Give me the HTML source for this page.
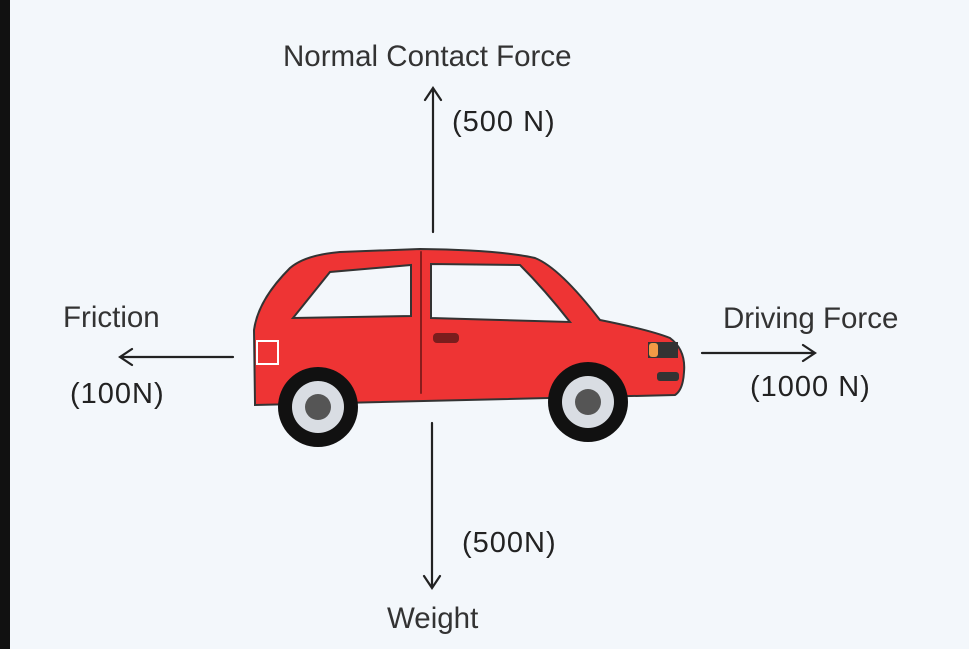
<!DOCTYPE html>
<html><head><style>
html,body{margin:0;padding:0;}
body{width:969px;height:649px;background:#f3f7fb;position:relative;overflow:hidden;font-family:"Liberation Sans",sans-serif;}
.t{position:absolute;color:#333;font-size:29.5px;line-height:34px;}
.h{position:absolute;color:#222;font-family:"Liberation Sans",sans-serif;font-size:29px;letter-spacing:1px;}
</style></head><body>
<div style="position:absolute;left:0;top:0;width:10px;height:649px;background:#111"></div>
<div class="t" style="left:283px;top:40px">Normal Contact Force</div>
<div class="t" style="left:63px;top:301px">Friction</div>
<div class="t" style="left:723px;top:302px">Driving Force</div>
<div class="t" style="left:387px;top:602px">Weight</div>
<div class="h" style="left:452px;top:106px">(500 N)</div>
<div class="h" style="left:70px;top:378px">(100N)</div>
<div class="h" style="left:750px;top:371px">(1000 N)</div>
<div class="h" style="left:462px;top:527px">(500N)</div>
<svg width="969" height="649" style="position:absolute;left:0;top:0" fill="none" stroke="#222" stroke-width="2.2" stroke-linecap="round">
<path d="M433 232V88M425 100l8-12 8 12"/>
<path d="M432 423V588M424 576l8 12 8-12"/>
<path d="M233 357H120M132 349l-12 8 12 8"/>
<path d="M702 353H815M803 345l12 8-12 8"/>
<path d="M255 403 L254 330 Q258 300 290 268 Q305 255 340 252 L420 249 Q500 250 535 258 Q560 268 600 320 Q650 330 670 338 Q686 350 684 372 Q683 390 675 395 L255 405Z" fill="#ee3434" stroke="#333" stroke-width="2"/>
<path d="M293 318 L330 272 L411 265 L411 316Z" fill="#f3f7fb" stroke="#333" stroke-width="2"/>
<path d="M431 264 L520 265 Q545 290 570 322 L431 318Z" fill="#f3f7fb" stroke="#333" stroke-width="2"/>
<path d="M421 252V393" stroke="#8a1c1c" stroke-width="2"/>
<rect x="257" y="341" width="21" height="23" fill="#ee3434" stroke="#fff" stroke-width="2"/>
<rect x="433" y="333" width="26" height="10" rx="4" fill="#7a1d1d" stroke="none"/>
<path d="M648 342h30v16h-30z" fill="#333" stroke="none"/>
<rect x="649" y="343" width="9" height="14" rx="3" fill="#f29a45" stroke="none"/>
<rect x="657" y="372" width="22" height="9" rx="3" fill="#333" stroke="none"/>
<circle cx="318" cy="407" r="40" fill="#111" stroke="none"/>
<circle cx="318" cy="407" r="26" fill="#d9dde3" stroke="none"/>
<circle cx="318" cy="407" r="13" fill="#555" stroke="none"/>
<circle cx="588" cy="402" r="40" fill="#111" stroke="none"/>
<circle cx="588" cy="402" r="26" fill="#d9dde3" stroke="none"/>
<circle cx="588" cy="402" r="13" fill="#555" stroke="none"/>
</svg>
</body></html>
